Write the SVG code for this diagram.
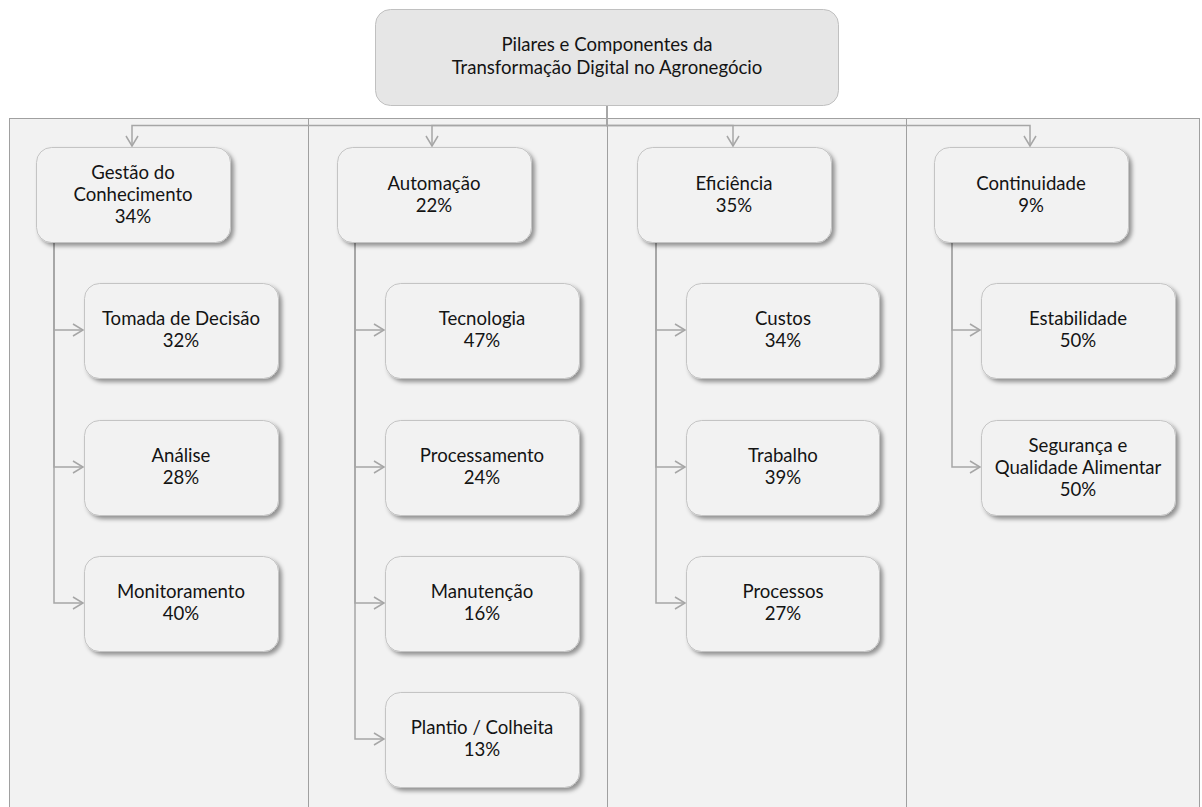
<svg xmlns="http://www.w3.org/2000/svg" width="1202" height="807" viewBox="0 0 1202 807">
<style>
.lane{fill:#f2f2f2;stroke:#a0a0a0;stroke-width:1}
.box{fill:#f2f2f2;stroke:#c4c4c4;stroke-width:1;filter:url(#sh)}
.top{fill:#e6e6e6;stroke:#c0c0c0;stroke-width:1}
.t{font-family:Lato,"Liberation Sans",sans-serif;font-size:18.6px;fill:#141414;text-anchor:middle}
.c{fill:none;stroke:#a6a6a6;stroke-width:1.5;marker-end:url(#ar)}
</style>
<defs>
<filter id="sh" x="-10%" y="-10%" width="130%" height="140%">
<feDropShadow dx="3" dy="3" stdDeviation="2" flood-color="#000" flood-opacity="0.4"/>
</filter>
<marker id="ar" markerUnits="userSpaceOnUse" viewBox="0 0 12 14" refX="11" refY="7" markerWidth="12" markerHeight="14" orient="auto">
<path d="M1,1 L11,7 L1,13" fill="none" stroke="#a6a6a6" stroke-width="1.5"/>
</marker>
</defs>
<rect width="1202" height="807" fill="#fff"/>
<g id="lanes">
<rect class="lane" x="9.5" y="118.5" width="299" height="700"/>
<rect class="lane" x="308.5" y="118.5" width="299" height="700"/>
<rect class="lane" x="607.5" y="118.5" width="299" height="700"/>
<rect class="lane" x="906.5" y="118.5" width="293" height="700"/>
</g>
<g id="connectors">
<path class="c" d="M607,106 V125.5 H132 V146"/>
<path class="c" d="M607,106 V125.5 H432 V146"/>
<path class="c" d="M607,106 V125.5 H733 V146"/>
<path class="c" d="M607,106 V125.5 H1030 V146"/>
<path class="c" d="M54,242 V330 H83"/>
<path class="c" d="M54,242 V467 H83"/>
<path class="c" d="M54,242 V603 H83"/>
<path class="c" d="M355,242 V330 H384"/>
<path class="c" d="M355,242 V467 H384"/>
<path class="c" d="M355,242 V603 H384"/>
<path class="c" d="M355,242 V739 H384"/>
<path class="c" d="M656,242 V330 H685"/>
<path class="c" d="M656,242 V467 H685"/>
<path class="c" d="M656,242 V603 H685"/>
<path class="c" d="M952,242 V330 H980"/>
<path class="c" d="M952,242 V467 H980"/>
</g>
<g id="root">
<rect class="top" x="375.5" y="9.5" width="463" height="96" rx="15"/>
<text class="t" x="607" y="51">Pilares e Componentes da</text>
<text class="t" x="607" y="74">Transformação Digital no Agronegócio</text>
</g>
<g id="gestao">
<rect class="box" x="36.5" y="147.5" width="194" height="95" rx="15"/>
<text class="t" x="133" y="179">Gestão do</text>
<text class="t" x="133" y="201">Conhecimento</text>
<text class="t" x="133" y="223">34%</text>
</g>
<g id="automacao">
<rect class="box" x="337.5" y="147.5" width="194" height="95" rx="15"/>
<text class="t" x="434" y="190">Automação</text>
<text class="t" x="434" y="212">22%</text>
</g>
<g id="eficiencia">
<rect class="box" x="637.5" y="147.5" width="194" height="95" rx="15"/>
<text class="t" x="734" y="190">Eficiência</text>
<text class="t" x="734" y="212">35%</text>
</g>
<g id="continuidade">
<rect class="box" x="934.5" y="147.5" width="194" height="95" rx="15"/>
<text class="t" x="1031" y="190">Continuidade</text>
<text class="t" x="1031" y="212">9%</text>
</g>
<g id="tomada">
<rect class="box" x="84.5" y="283.5" width="194" height="95" rx="15"/>
<text class="t" x="181" y="325">Tomada de Decisão</text>
<text class="t" x="181" y="347">32%</text>
</g>
<g id="analise">
<rect class="box" x="84.5" y="420.5" width="194" height="95" rx="15"/>
<text class="t" x="181" y="462">Análise</text>
<text class="t" x="181" y="484">28%</text>
</g>
<g id="monitoramento">
<rect class="box" x="84.5" y="556.5" width="194" height="95" rx="15"/>
<text class="t" x="181" y="598">Monitoramento</text>
<text class="t" x="181" y="620">40%</text>
</g>
<g id="tecnologia">
<rect class="box" x="385.5" y="283.5" width="194" height="95" rx="15"/>
<text class="t" x="482" y="325">Tecnologia</text>
<text class="t" x="482" y="347">47%</text>
</g>
<g id="processamento">
<rect class="box" x="385.5" y="420.5" width="194" height="95" rx="15"/>
<text class="t" x="482" y="462">Processamento</text>
<text class="t" x="482" y="484">24%</text>
</g>
<g id="manutencao">
<rect class="box" x="385.5" y="556.5" width="194" height="95" rx="15"/>
<text class="t" x="482" y="598">Manutenção</text>
<text class="t" x="482" y="620">16%</text>
</g>
<g id="plantio">
<rect class="box" x="385.5" y="692.5" width="194" height="95" rx="15"/>
<text class="t" x="482" y="734">Plantio / Colheita</text>
<text class="t" x="482" y="756">13%</text>
</g>
<g id="custos">
<rect class="box" x="686.5" y="283.5" width="193" height="95" rx="15"/>
<text class="t" x="783" y="325">Custos</text>
<text class="t" x="783" y="347">34%</text>
</g>
<g id="trabalho">
<rect class="box" x="686.5" y="420.5" width="193" height="95" rx="15"/>
<text class="t" x="783" y="462">Trabalho</text>
<text class="t" x="783" y="484">39%</text>
</g>
<g id="processos">
<rect class="box" x="686.5" y="556.5" width="193" height="95" rx="15"/>
<text class="t" x="783" y="598">Processos</text>
<text class="t" x="783" y="620">27%</text>
</g>
<g id="estabilidade">
<rect class="box" x="981.5" y="283.5" width="194" height="95" rx="15"/>
<text class="t" x="1078" y="325">Estabilidade</text>
<text class="t" x="1078" y="347">50%</text>
</g>
<g id="seguranca">
<rect class="box" x="981.5" y="420.5" width="194" height="95" rx="15"/>
<text class="t" x="1078" y="452">Segurança e</text>
<text class="t" x="1078" y="474">Qualidade Alimentar</text>
<text class="t" x="1078" y="496">50%</text>
</g>
</svg>
